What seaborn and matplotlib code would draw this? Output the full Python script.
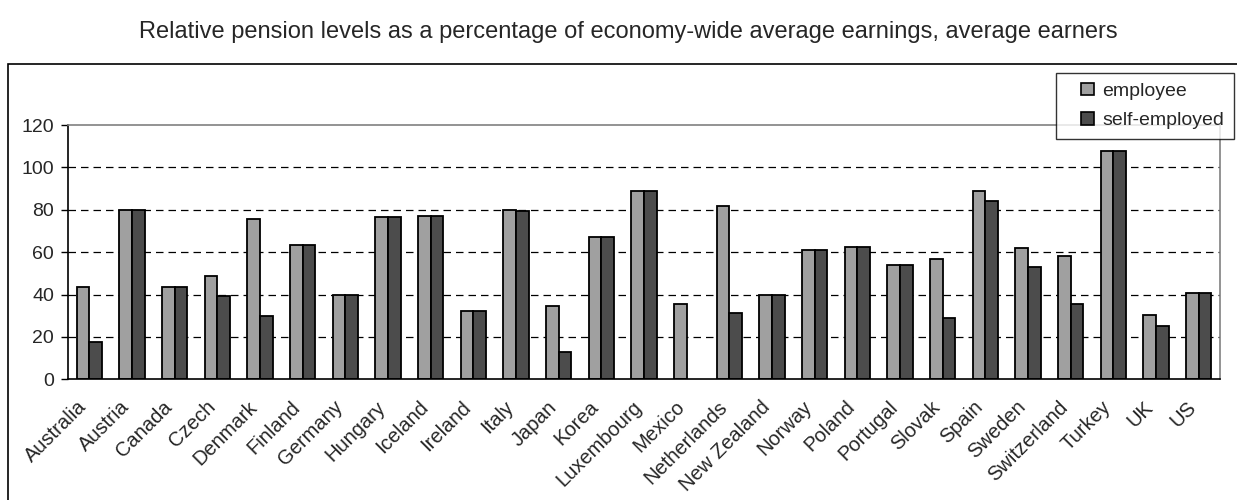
import numpy as np
import pandas as pd
import matplotlib
matplotlib.use("Agg")
import matplotlib.pyplot as plt
import matplotlib.transforms as mtransforms
from matplotlib.patches import Rectangle
from matplotlib.legend_handler import HandlerPatch
import seaborn as sns

# Datos
countries = ["Australia", "Austria", "Canada", "Czech", "Denmark", "Finland", "Germany",
             "Hungary", "Iceland", "Ireland", "Italy", "Japan", "Korea", "Luxembourg",
             "Mexico", "Netherlands", "New Zealand", "Norway", "Poland", "Portugal",
             "Slovak", "Spain", "Sweden", "Switzerland", "Turkey", "UK", "US"]
employee = [43.7, 80.0, 43.7, 48.7, 75.8, 63.4, 40.0, 76.4, 77.2, 32.2, 80.0, 34.7, 67.0,
            88.7, 35.7, 81.7, 40.0, 61.0, 62.5, 53.9, 56.6, 88.7, 61.8, 58.3, 107.7, 30.3, 40.8]
self_employed = [17.5, 80.0, 43.7, 39.3, 29.7, 63.4, 40.0, 76.4, 77.2, 32.2, 79.2, 13.0, 67.0,
                 88.7, np.nan, 31.4, 40.0, 61.0, 62.5, 53.9, 28.8, 84.2, 53.1, 35.7, 107.7, 25.3, 40.8]
series = ["employee", "self-employed"]
colors = ["#a0a0a0", "#4c4c4c"]

df = pd.DataFrame({
    "country": countries * 2,
    "value": employee + self_employed,
    "type": [series[0]] * len(countries) + [series[1]] * len(countries),
})

sns.set_style("white")
plt.rcParams['font.family'] = ['Liberation Sans', 'DejaVu Sans']

fig = plt.figure(figsize=(12.37, 5), dpi=100)
ax = fig.add_axes([68 / 1237, 1 - 379.3 / 500, (1220 - 68) / 1237, (379.3 - 125) / 500])

sns.barplot(data=df, x="country", y="value", hue="type", order=countries,
            hue_order=series, palette=colors, width=0.6, edgecolor="black",
            linewidth=1.3, saturation=1, ax=ax, legend=False)

ax.set_xlim(-0.5, len(countries) - 0.5)
ax.set_ylim(0, 120)
ax.set_yticks(range(0, 121, 20))
ax.set_xlabel("")
ax.set_ylabel("")

# lineas de rejilla discontinuas
for yv in range(20, 101, 20):
    ax.axhline(yv, color="black", linestyle=(0, (6, 4)), linewidth=0.9, zorder=0)

# marcas del eje x entre categorias
ax.set_xticks(np.arange(-0.5, len(countries), 1.0), minor=True)
ax.tick_params(axis="x", which="minor", length=5, width=1, color="black", direction="out")
ax.tick_params(axis="x", which="major", length=0, pad=13)
ax.tick_params(axis="y", length=5, width=1, color="black", direction="out", left=True, pad=5)
ax.set_xticks(range(len(countries)))
ax.set_xticklabels(countries, rotation=45, ha="right", va="top", rotation_mode="anchor",
                   fontsize=14.5)
shift = mtransforms.ScaledTranslation(-0.12, 0, fig.dpi_scale_trans)
for lab in ax.get_xticklabels():
    lab.set_transform(lab.get_transform() + shift)
for lab in ax.get_yticklabels():
    lab.set_fontsize(14)

for side in ["left", "bottom"]:
    ax.spines[side].set_color("black")
    ax.spines[side].set_linewidth(1.2)
for side in ["top", "right"]:
    ax.spines[side].set_color("#808080")
    ax.spines[side].set_linewidth(1.2)


# cuadrito de la leyenda pegado a la derecha del hueco
def square_patch(legend, orig_handle, xdescent, ydescent, width, height, fontsize):
    s = height
    return Rectangle((-xdescent + width - s, -ydescent), s, s)


handles = [Rectangle((0, 0), 1, 1, facecolor=c, edgecolor="black", linewidth=1.2) for c in colors]
leg = fig.legend(handles, series, loc="upper right", bbox_to_anchor=(1234 / 1237, 1 - 73 / 500),
                 fontsize=14, frameon=True, fancybox=False, edgecolor="black",
                 handlelength=1.45, handleheight=0.6, handletextpad=0.45, borderpad=0.5,
                 labelspacing=0.65, borderaxespad=0,
                 handler_map={Rectangle: HandlerPatch(patch_func=square_patch)})
leg.get_frame().set_linewidth(1)

# marco exterior
fig.patches.append(Rectangle((8 / 1237, -0.01), 1.0, 1 - 64 / 500 + 0.01, transform=fig.transFigure,
                             fill=False, edgecolor="black", linewidth=1.2))

fig.text(628 / 1237, 1 - 32 / 500,
         "Relative pension levels as a percentage of economy-wide average earnings, average earners",
         ha="center", va="center", fontsize=17)

plt.savefig("out.png", dpi=100)
